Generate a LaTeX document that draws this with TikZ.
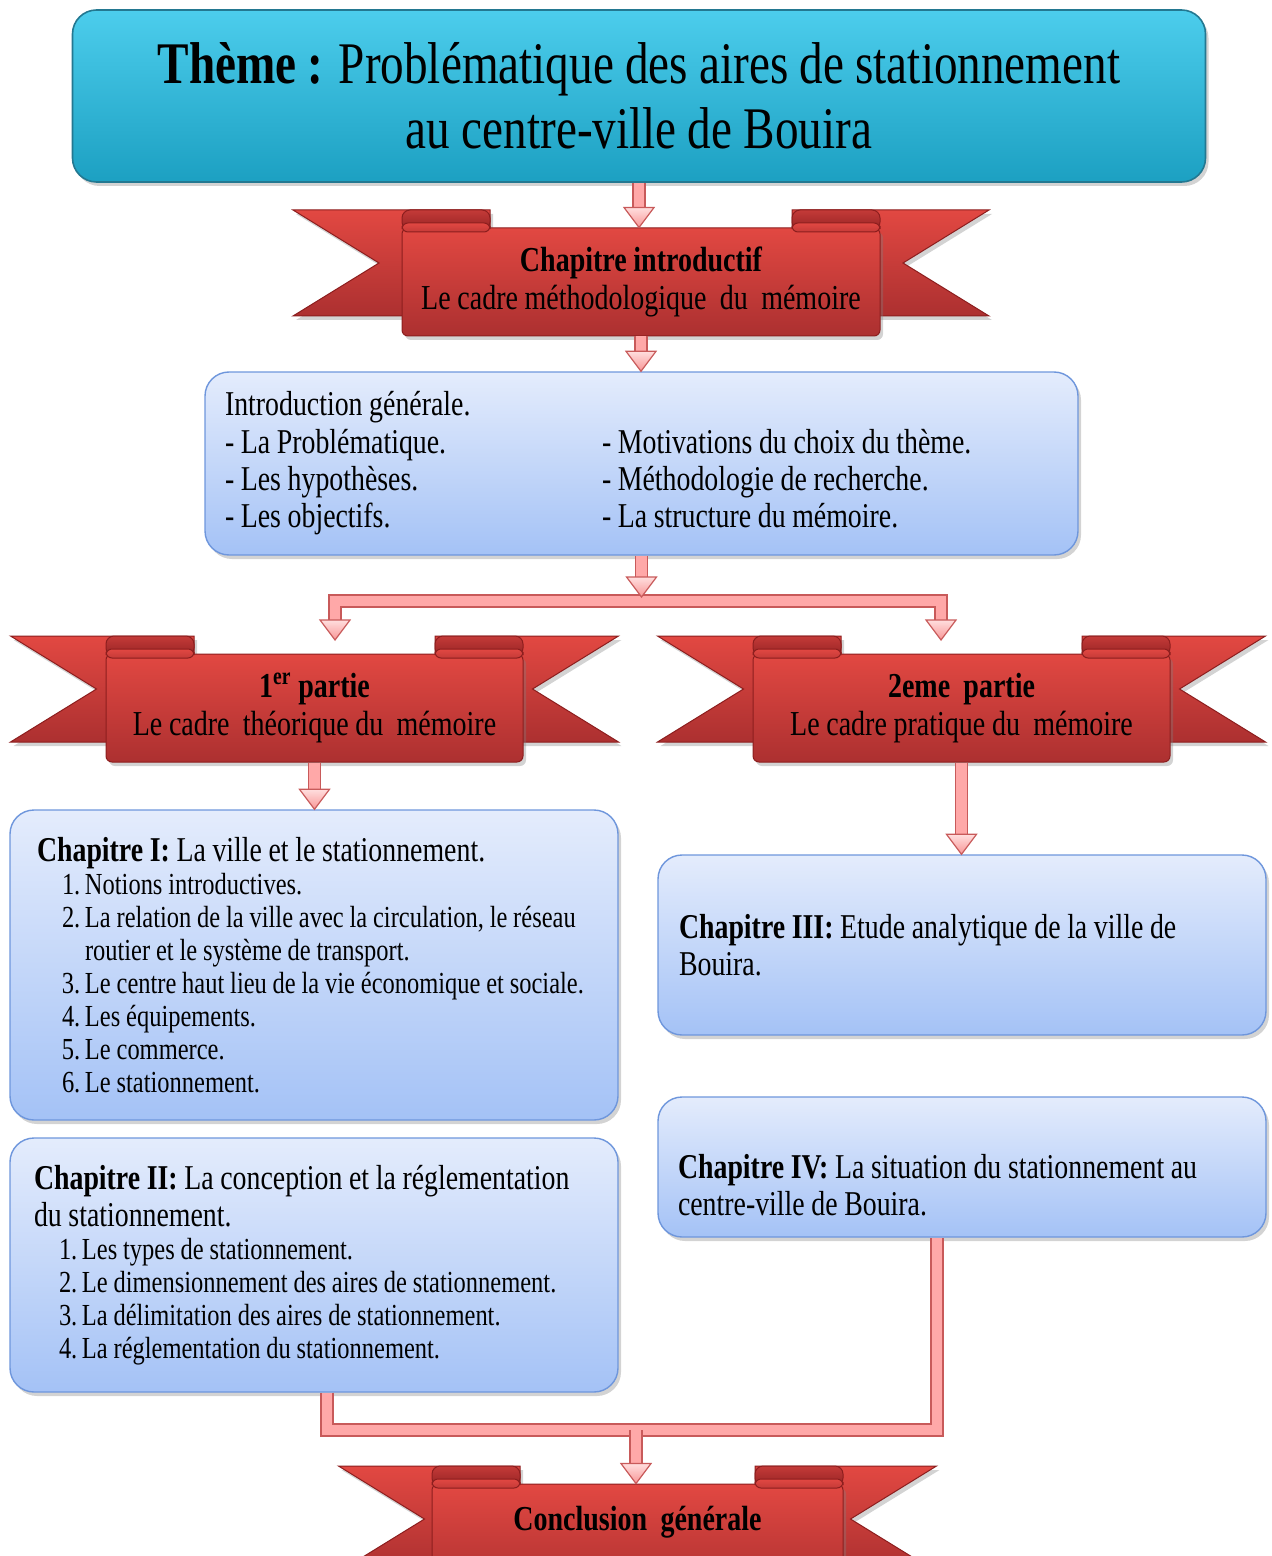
\documentclass[tikz,border=0pt]{standalone}
\usepackage{fontspec}
\setmainfont{Liberation Serif}[FakeStretch=0.8, WordSpace=0.95]
\usetikzlibrary{calc,shadows}

\definecolor{themetop}{RGB}{76,205,236}
\definecolor{themebot}{RGB}{28,160,194}
\definecolor{themeedge}{RGB}{35,120,145}
\definecolor{redtop}{RGB}{226,72,66}
\definecolor{redbot}{RGB}{172,48,48}
\definecolor{rededge}{RGB}{140,30,30}
\definecolor{rolltop}{RGB}{196,58,56}
\definecolor{rollbot}{RGB}{150,36,36}
\definecolor{bluetop}{RGB}{228,236,252}
\definecolor{bluebot}{RGB}{164,194,246}
\definecolor{blueedge}{RGB}{110,150,220}
\definecolor{pinklight}{RGB}{255,222,222}
\definecolor{pinkdark}{RGB}{248,150,150}
\definecolor{pinkfill}{RGB}{255,168,168}
\definecolor{pinkedge}{RGB}{200,90,90}

\newcommand\titlefont{\fontsize{29.5}{32.5}\selectfont}
\newcommand\bandfont{\fontsize{17.5}{19}\selectfont}
\newcommand\boxfont{\fontsize{17.4}{18.7}\selectfont}
\newcommand\listfont{\fontsize{15.3}{16.5}\selectfont}

\tikzset{
  softshadow/.style={drop shadow={opacity=0.35, shadow xshift=1.5pt, shadow yshift=-2pt}},
  themebox/.style={rectangle, rounded corners=12pt, draw=themeedge, line width=0.8pt,
    top color=themetop, bottom color=themebot, softshadow},
  bluebox/.style={rectangle, rounded corners=12pt, draw=blueedge, line width=0.7pt,
    top color=bluetop, bottom color=bluebot, softshadow, font=\boxfont, align=flush left},
  band/.style={rectangle, rounded corners=3pt, draw=rededge, line width=0.5pt,
    top color=redtop, bottom color=redbot, minimum height=54pt, font=\bandfont, softshadow},
  tailred/.style={top color=redtop, bottom color=redbot, draw=rededge, line width=0.5pt, softshadow},
  rollred/.style={top color=rolltop, bottom color=rollbot, draw=rededge, line width=0.5pt, rounded corners=4pt},
  curl/.style={draw=rededge, line width=0.5pt, top color=redtop, bottom color=rolltop, rounded corners=3pt},
  pinkline/.style={draw=pinkedge, line width=0.6pt, double=pinkfill, double distance=5.4pt},
  pinkheadst/.style={draw=pinkedge, line width=0.6pt, top color=pinklight, bottom color=pinkdark},
}

% #1 name, #2 cx, #3 cy, #4 band half width, #5 tail half width, #6 options, #7 text
\newcommand\ribbon[7]{%
  \path[tailred] (#2-#5,#3-72) -- (#2-#4+88,#3-72) -- (#2-#4+88,#3+34) -- (#2-#5,#3+34) -- (#2-#5+86,#3-19) -- cycle;
  \path[tailred] (#2+#5,#3-72) -- (#2+#4-88,#3-72) -- (#2+#4-88,#3+34) -- (#2+#5,#3+34) -- (#2+#5-86,#3-19) -- cycle;
  \path[rollred] (#2-#4,#3-72) rectangle (#2-#4+88,#3-52);
  \path[rollred] (#2+#4-88,#3-72) rectangle (#2+#4,#3-52);
  \node[band, minimum width=#4pt, #6] (#1) at (#2,#3) {#7};
  \path[curl] (#2-#4,#3-59) rectangle (#2-#4+88,#3-50);
  \path[curl] (#2+#4-88,#3-59) rectangle (#2+#4,#3-50);
}
\newcommand\pinkhead[1]{%
  \path[pinkheadst] ([xshift=-7.5pt,yshift=10pt]#1) -- (#1) -- ([xshift=7.5pt,yshift=10pt]#1) -- cycle;
}
\newcommand\pinkarrow[2]{%
  \draw[pinkline] let \p1=(#1), \p2=(#2) in (\x1,\y1) -- (\x1,\y2+9.5pt);
  \path[pinkheadst] let \p1=(#1), \p2=(#2) in (\x1-7.5pt,\y2+10pt) -- (\x1,\y2) -- (\x1+7.5pt,\y2+10pt) -- cycle;
}
\newcommand\chapitem[2]{\par\hangindent=24pt\hangafter=1\noindent\hspace*{12.5pt}\makebox[11.5pt][l]{#1}#2}

\begin{document}
\begin{tikzpicture}[x=0.5pt, y=-0.5pt]
\useasboundingbox (0,0) rectangle (1271,1556);

% title
\node[themebox, minimum width=566.5pt, minimum height=86pt, align=center, font=\titlefont] (theme) at (639,96)
  {{\bfseries Thème~:} Problématique des aires de stationnement\\au centre-ville de Bouira};

% ribbons
\ribbon{ci}{641}{282}{239}{348}{align=center}{{\bfseries Chapitre introductif}\\Le cadre méthodologique~ du~ mémoire}
\ribbon{p1}{314.5}{708}{208.5}{304}{align=center}{{\bfseries 1\textsuperscript{er} partie}\\Le cadre~ théorique du~ mémoire}
\ribbon{p2}{961.5}{708}{208.5}{304}{align=center}{{\bfseries 2eme~ partie}\\Le cadre pratique du~ mémoire}
\ribbon{concl}{637.5}{1538}{205.5}{299}{text depth=20pt}{{\bfseries Conclusion~ générale}}

% boxes
\node[bluebox, minimum width=436.5pt, minimum height=91.5pt, text width=416.5pt, inner xsep=10pt] (intro) at (641.5,463.5)
  {Introduction générale.\\
   \makebox[188.5pt][l]{- La Problématique.}- Motivations du choix du thème.\\
   \makebox[188.5pt][l]{- Les hypothèses.}- Méthodologie de recherche.\\
   \makebox[188.5pt][l]{- Les objectifs.}- La structure du mémoire.};

\node[bluebox, minimum width=304pt, minimum height=155pt, text width=277pt, inner xsep=13.5pt] (c1) at (314,965)
  {{\bfseries Chapitre I:} La ville et le stationnement.\par
   \listfont
   \chapitem{1.}{Notions introductives.}
   \chapitem{2.}{La relation de la ville avec la circulation, le réseau\newline routier et le système de transport.}
   \chapitem{3.}{Le centre haut lieu de la vie économique et sociale.}
   \chapitem{4.}{Les équipements.}
   \chapitem{5.}{Le commerce.}
   \chapitem{6.}{Le stationnement.}\par};

\node[bluebox, minimum width=304pt, minimum height=127pt, text width=280pt, inner xsep=12pt] (c2) at (314,1265)
  {{\bfseries Chapitre II:} La conception et la réglementation\\du stationnement.\par
   \listfont
   \chapitem{1.}{Les types de stationnement.}
   \chapitem{2.}{Le dimensionnement des aires de stationnement.}
   \chapitem{3.}{La délimitation des aires de stationnement.}
   \chapitem{4.}{La réglementation du stationnement.}\par};

\node[bluebox, minimum width=304pt, minimum height=90pt, text width=283pt, inner xsep=10.5pt] (c3) at (962,945)
  {{\bfseries Chapitre III:} Etude analytique de la ville de\\Bouira.};

\node[bluebox, minimum width=304pt, minimum height=70pt, text width=284pt, inner xsep=10pt] (c4) at (962,1167)
  {\rule{0pt}{30pt}{\bfseries Chapitre IV:} La situation du stationnement au\\centre-ville de Bouira.};

% connectors
\coordinate (split) at (641,601);
\coordinate (tipl) at (335,640);
\coordinate (tipr) at (941,640);
\coordinate (jl) at (327,1430);
\coordinate (jr) at (937,1430);
\coordinate (join) at (636,1430);

\pinkarrow{theme.south}{ci.north}
\pinkarrow{ci.south}{intro.north}
\draw[pinkline] ([yshift=10pt]tipl) |- (split) -| ([yshift=10pt]tipr);
\pinkhead{tipl}
\pinkhead{tipr}
\pinkarrow{intro.south}{[yshift=2pt]split}
\pinkarrow{p1.south}{c1.north}
\pinkarrow{p2.south}{c3.north}
\draw[pinkline] (c2.south -| jl) -- (jl) -- (jr) -- (c4.south -| jr);
\pinkarrow{join}{concl.north}
\end{tikzpicture}
\end{document}
